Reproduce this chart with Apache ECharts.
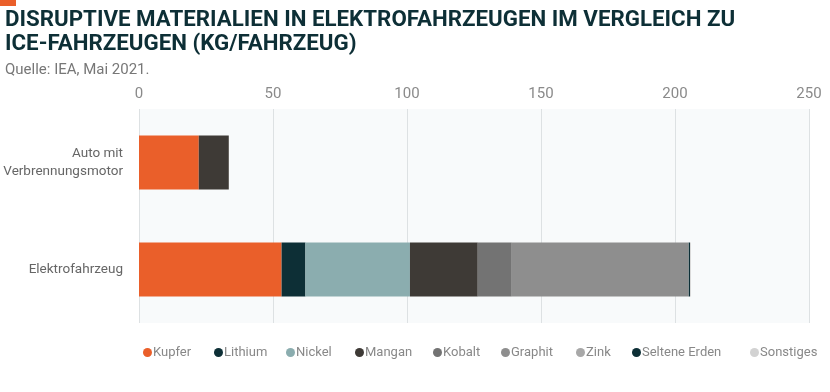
<!DOCTYPE html>
<html><head><meta charset="utf-8">
<script src="https://cdn.jsdelivr.net/npm/echarts@6/dist/echarts.min.js"></script>
<style>html,body{margin:0;padding:0;background:#fff}#c{width:830px;height:392px}</style>
</head><body><div id="c"></div>
<script>
const categories = ['Auto mit\nVerbrennungsmotor', 'Elektrofahrzeug'];
const seriesNames = ['Kupfer','Lithium','Nickel','Mangan','Kobalt','Graphit','Zink','Seltene Erden','Sonstiges'];
const kupfer = [22.3, 53.2];
const lithium = [0, 8.9];
const nickel = [0, 39.0];
const mangan = [11.2, 25.3];
const kobalt = [0, 12.7];
const graphit = [0, 65.9];
const zink = [0, 0.1];
const selteneErden = [0, 0.5];
const sonstiges = [0, 0.3];
const xTicks = [0, 50, 100, 150, 200, 250];
const colors = ['#EA5F2A','#0D2F36','#8BADAF','#3E3A36','#737373','#8E8E8E','#A8A8A8','#0D2F36','#D2D2D2'];
const values = [kupfer, lithium, nickel, mangan, kobalt, graphit, zink, selteneErden, sonstiges];
const legendLefts = [138, 209, 281, 350, 428, 496, 571, 627, 745];

const chart = echarts.init(document.getElementById('c'), null, {renderer:'canvas'});
chart.setOption({
  animation:false,
  backgroundColor:'#fff',
  graphic:[{type:'rect', shape:{x:0,y:0,width:16,height:6}, style:{fill:'#EA5F2A'}}],
  title:[{
    text:'DISRUPTIVE MATERIALIEN IN ELEKTROFAHRZEUGEN IM VERGLEICH ZU\nICE-FAHRZEUGEN (KG/FAHRZEUG)',
    left:0, top:3,
    textStyle:{fontFamily:'Roboto', fontWeight:'bold', fontSize:22.3, lineHeight:24, color:'#0D2F36'}
  },{
    text:'Quelle: IEA, Mai 2021.',
    left:0, top:58,
    textStyle:{fontFamily:'Roboto', fontWeight:'normal', fontSize:15, color:'#777'}
  }],
  legend: seriesNames.map((n,i)=>({
    top:341, left:legendLefts[i],
    itemWidth:9, itemHeight:9, itemGap:0,
    icon:'circle',
    textStyle:{fontFamily:'Roboto', fontSize:13, color:'#888', padding:[0,0,0,-4]},
    data:[n]
  })),
  grid:{left:139, right:21, top:109, bottom:69, containLabel:false, outerBoundsMode:'none',
        show:true, backgroundColor:'#f8fafb', borderWidth:0},
  xAxis:{
    type:'value', position:'top', min:0, max:250, interval:50,
    axisLine:{show:false}, axisTick:{show:false},
    axisLabel:{fontFamily:'Roboto', fontSize:15, color:'#8a8a8a', margin:7},
    splitLine:{lineStyle:{color:'#dde1e3', width:1}}
  },
  yAxis:{
    type:'category', inverse:true, data:categories,
    axisLine:{show:false}, axisTick:{show:false},
    axisLabel:{fontFamily:'Roboto', fontSize:13.5, color:'#666', lineHeight:18, margin:16}
  },
  series: seriesNames.map((n,i)=>({
    name:n, type:'bar', stack:'a', barWidth:54,
    itemStyle:{color:colors[i]},
    data: values[i]
  }))
});
</script></body></html>
